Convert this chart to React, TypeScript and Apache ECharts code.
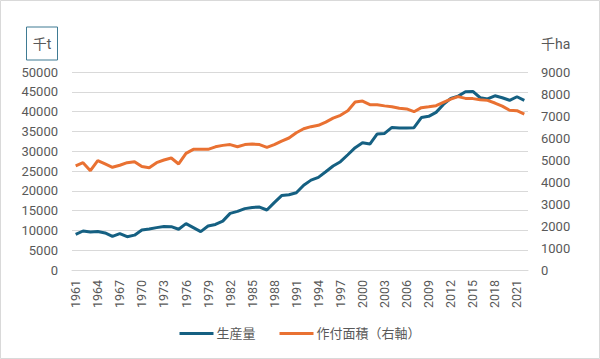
import React, { useEffect, useRef } from "react";
import * as echarts from "echarts";

const years: string[] = [];
for (let y = 1961; y <= 2022; y++) years.push(String(y));

const production = [
  9000, 9850, 9600, 9700, 9350, 8500, 9200, 8400, 8800, 10100,
  10350, 10700, 11000, 10950, 10300, 11700, 10700, 9700, 11100, 11500,
  12350, 14300, 14800, 15500, 15800, 15900, 15150, 17000, 18800, 19000,
  19500, 21400, 22700, 23400, 24800, 26250, 27350, 29100, 30900, 32150,
  31800, 34350, 34500, 36000, 35850, 35850, 35950, 38500, 38800, 39800,
  41800, 43350, 43900, 45000, 45100, 43500, 43200, 44000, 43500, 42850,
  43750, 42850,
];

const area = [
  4730, 4880, 4515, 4970, 4820, 4670, 4760, 4880, 4925, 4700,
  4650, 4880, 5000, 5090, 4820, 5300, 5485, 5485, 5485, 5600,
  5665, 5700, 5600, 5700, 5725, 5700, 5575, 5700, 5860, 6000,
  6240, 6420, 6515, 6575, 6725, 6900, 7030, 7240, 7635, 7680,
  7515, 7515, 7460, 7420, 7350, 7320, 7195, 7380, 7420, 7470,
  7620, 7770, 7880, 7800, 7790, 7740, 7710, 7590, 7450, 7260,
  7240, 7090,
];

const FONT = "Roboto, 'Noto Sans CJK JP', sans-serif";
const TXT = "#595959";
const plain = (v: number) => String(v);

export default function App() {
  const ref = useRef<HTMLDivElement>(null);
  useEffect(() => {
    document.body.style.margin = "0";
    if (!ref.current) return;
    const chart = echarts.init(ref.current, null, { renderer: "svg" });
    chart.setOption({
      animation: false,
      backgroundColor: "#ffffff",
      textStyle: { fontFamily: FONT },
      grid: { left: 72, right: 72, top: 72, bottom: 89, containLabel: false },
      graphic: [
        {
          type: "rect",
          shape: { x: 0.5, y: 0.5, width: 599, height: 358 },
          style: { fill: "none", stroke: "#d9d9d9", lineWidth: 1 },
          silent: true,
        },
        {
          type: "rect",
          shape: { x: 26.5, y: 27, width: 31, height: 33 },
          style: { fill: "#fff", stroke: "#3f7b93", lineWidth: 1 },
        },
        {
          type: "text",
          x: 42,
          y: 43.5,
          style: {
            text: "千t",
            fill: TXT,
            font: `14px ${FONT}`,
            align: "center",
            verticalAlign: "middle",
          },
        },
        {
          type: "text",
          x: 541,
          y: 43.5,
          style: {
            text: "千ha",
            fill: TXT,
            font: `14px ${FONT}`,
            align: "left",
            verticalAlign: "middle",
          },
        },
      ],
      legend: {
        bottom: 14,
        left: "center",
        icon: "rect",
        itemWidth: 34,
        itemHeight: 3,
        itemGap: 24,
        textStyle: { color: TXT, fontSize: 13, fontFamily: FONT, padding: [0, 0, 0, -2] },
        data: ["生産量", "作付面積（右軸）"],
      },
      xAxis: {
        type: "category",
        data: years,
        boundaryGap: true,
        axisLine: { show: true, lineStyle: { color: "#d9d9d9", width: 1 } },
        axisTick: { show: false },
        axisLabel: {
          interval: 2,
          rotate: 90,
          color: TXT,
          fontSize: 12.5,
          margin: 10,
          fontFamily: FONT,
        },
      },
      yAxis: [
        {
          type: "value",
          min: 0,
          max: 50000,
          interval: 5000,
          axisLine: { show: false },
          axisTick: { show: false },
          axisLabel: { color: TXT, fontSize: 13, margin: 14, fontFamily: FONT, formatter: plain },
          splitLine: { lineStyle: { color: "#d9d9d9", width: 1 } },
        },
        {
          type: "value",
          min: 0,
          max: 9000,
          interval: 1000,
          axisLine: { show: false },
          axisTick: { show: false },
          axisLabel: { color: TXT, fontSize: 13, margin: 13, fontFamily: FONT, formatter: plain },
          splitLine: { show: false },
        },
      ],
      series: [
        {
          name: "生産量",
          type: "line",
          data: production,
          yAxisIndex: 0,
          showSymbol: false,
          symbol: "none",
          lineStyle: { color: "#156082", width: 3 },
          itemStyle: { color: "#156082" },
        },
        {
          name: "作付面積（右軸）",
          type: "line",
          data: area,
          yAxisIndex: 1,
          showSymbol: false,
          symbol: "none",
          lineStyle: { color: "#E97132", width: 3 },
          itemStyle: { color: "#E97132" },
        },
      ],
    });
    return () => chart.dispose();
  }, []);
  return <div ref={ref} style={{ width: 600, height: 359 }} />;
}
